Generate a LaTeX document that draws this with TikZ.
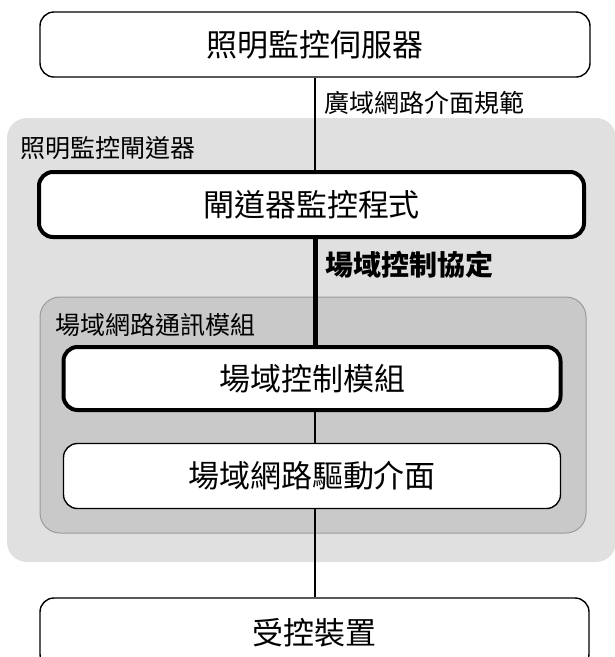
\documentclass[tikz,border=0pt]{standalone}
\usepackage{fontspec}
\setmainfont{Noto Sans CJK TC}
\definecolor{outergray}{HTML}{E0E0E0}
\definecolor{innergray}{HTML}{C9C9C9}
\definecolor{innerborder}{HTML}{9A9A9A}
\tikzset{
  box/.style={draw=black, line width=1.4pt, fill=white, rounded corners=14pt, inner sep=0pt, font=\fontsize{31}{36}\selectfont},
  thickbox/.style={box, line width=4pt},
  lbl/.style={inner sep=0pt, anchor=west, font=\fontsize{25}{30}\selectfont},
  conn/.style={draw=black, line width=1.2pt},
  thickconn/.style={draw=black, line width=5pt},
}
\begin{document}
\begin{tikzpicture}[x=1pt,y=-1pt]
\useasboundingbox (0,0) rectangle (615,657);
\clip (0,0) rectangle (615,657);
% containers
\fill[outergray, rounded corners=20pt] (7,118) rectangle (616,562);
\filldraw[fill=innergray, draw=innerborder, line width=1pt, rounded corners=20pt] (40,297) rectangle (586,533);
% labels
\node[lbl] (gwlbl) at (20,148) {照明監控閘道器};
\node[lbl] (modlbl) at (55,325) {場域網路通訊模組};
\node[lbl] (wanlbl) at (324,103) {廣域網路介面規範};
\node[lbl, font=\fontsize{28}{32}\selectfont\bfseries] (fieldlbl) at (325,265) {場域控制協定};
% boxes
\node[box, minimum width=550pt, minimum height=65pt] (server) at (315,44.5) {照明監控伺服器};
\node[thickbox, minimum width=545pt, minimum height=65pt] (gwprog) at (311.5,204.5) {閘道器監控程式};
\node[thickbox, minimum width=497pt, minimum height=63pt] (fcmod) at (312,378.5) {場域控制模組};
\node[box, minimum width=497pt, minimum height=65pt] (drv) at (312,476) {場域網路驅動介面};
\node[box, minimum width=549pt, minimum height=70pt] (dev) at (314.5,633) {受控裝置};
% connectors
\draw[conn] (server.south) -- (server.south |- gwprog.north);
\draw[thickconn] (gwprog.south -| server.south) -- (fcmod.north -| server.south);
\draw[conn] (fcmod.south -| server.south) -- (drv.north -| server.south);
\draw[conn] (drv.south -| server.south) -- (dev.north -| server.south);
\end{tikzpicture}
\end{document}
